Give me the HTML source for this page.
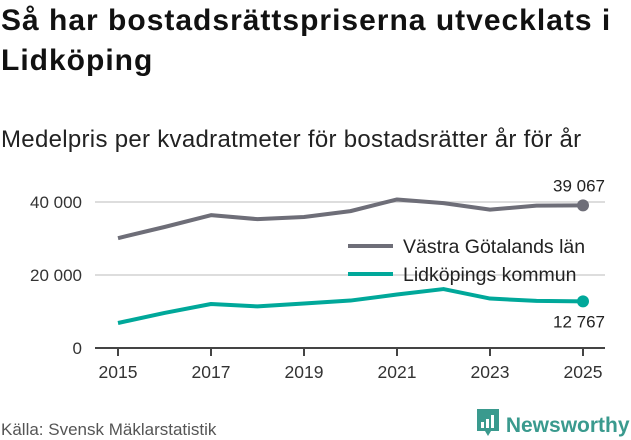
<!DOCTYPE html>
<html><head><meta charset="utf-8"><style>
body{margin:0;width:631px;height:439px;background:#fff;font-family:"Liberation Sans",sans-serif;overflow:hidden;position:relative;color:#111}
#title{position:absolute;left:1px;top:1px;font-size:30px;font-weight:bold;line-height:40px;margin:0;letter-spacing:1px}
#sub{position:absolute;left:1px;top:126px;font-size:24px;margin:0;color:#222;letter-spacing:0.3px}
svg{position:absolute;left:0;top:0}
#src{position:absolute;left:1px;top:420px;font-size:17px;color:#555}
#logo{position:absolute;left:476px;top:402px;font-size:21px;font-weight:bold;color:#3a9a8e}
</style></head><body>
<h1 id="title">Så har bostadsrättspriserna utvecklats i<br>Lidköping</h1>
<p id="sub">Medelpris per kvadratmeter för bostadsrätter år för år</p>
<svg id="chart" width="631" height="439"></svg>
<div id="src">Källa: Svensk Mäklarstatistik</div>
<div id="logo"><svg width="24" height="30" style="position:relative;top:6px;left:0"><path d="M1 1h22v22h-8l-3 5-3-5H1z" fill="#3a9a8e"/><rect x="5" y="14" width="3" height="6" fill="#fff"/><rect x="10" y="11" width="3" height="9" fill="#fff"/><rect x="15" y="7" width="3" height="13" fill="#fff"/></svg> Newsworthy</div>
<script>
const years=[2015,2016,2017,2018,2019,2020,2021,2022,2023,2024,2025];
const vastra=[30100,33150,36400,35300,35900,37500,40700,39700,37900,39000,39067];
const lidkoping=[6850,9600,12050,11400,12200,13000,14650,16150,13550,12900,12767];
const yTicks=[0,20000,40000];
const yTickLabels=["0","20 000","40 000"];
const xTicks=[2015,2017,2019,2021,2023,2025];
const NS="http://www.w3.org/2000/svg";
const svg=document.getElementById('chart');
const X=y=>118+(y-2015)*46.5;
const Y=v=>348-v*73/20000;
function mk(t,a){const e=document.createElementNS(NS,t);for(const k in a)e.setAttribute(k,a[k]);svg.appendChild(e);return e;}
yTicks.forEach((v,i)=>{
 if(v>0){const g=mk('line',{x1:95,x2:605,y1:Y(v),y2:Y(v),stroke:'#ddd','stroke-width':2});
 
 }
 const t=mk('text',{x:82,y:Y(v)+6,'text-anchor':'end','font-size':17,fill:'#333'});t.textContent=yTickLabels[i];
 
 
});
const ax=mk('line',{x1:95,x2:605,y1:348,y2:348,stroke:'#444','stroke-width':2});


xTicks.forEach(y=>{
 const tk=mk('line',{x1:X(y),x2:X(y),y1:348,y2:356,stroke:'#444','stroke-width':2});
 
 
 const t=mk('text',{x:X(y),y:378,'text-anchor':'middle','font-size':17.5,fill:'#333'});t.textContent=y;
 
 
});
function series(vals,color,name){
 const d=vals.map((v,i)=>(i?'L':'M')+X(years[i])+' '+Y(v)).join(' ');
 const p=mk('path',{d,fill:'none',stroke:color,'stroke-width':4,'stroke-linejoin':'round'});
 
 
 const c=mk('circle',{cx:X(years[years.length-1]),cy:Y(vals[vals.length-1]),r:6,fill:color});
 
 
}
series(vastra,'#6e6e78','vastra-gotaland');
series(lidkoping,'#00a89a','lidkoping');
const fmt=v=>String(v).replace(/\B(?=(\d{3})+(?!\d))/g,' ');
let l1=mk('text',{x:605,y:Y(vastra[10])-14,'text-anchor':'end','font-size':17,fill:'#222'});l1.textContent=fmt(vastra[10]);


let l2=mk('text',{x:605,y:Y(lidkoping[10])+26,'text-anchor':'end','font-size':17,fill:'#222'});l2.textContent=fmt(lidkoping[10]);


[['Västra Götalands län','#6e6e78',246],['Lidköpings kommun','#00a89a',274]].forEach(([n,c,y])=>{
 const ln=mk('line',{x1:348,x2:393,y1:y,y2:y,stroke:c,'stroke-width':4});
 
 
 const t=mk('text',{x:403,y:y+7,'font-size':19.5,fill:'#222'});t.textContent=n;
 
 
});
</script>
</body></html>
